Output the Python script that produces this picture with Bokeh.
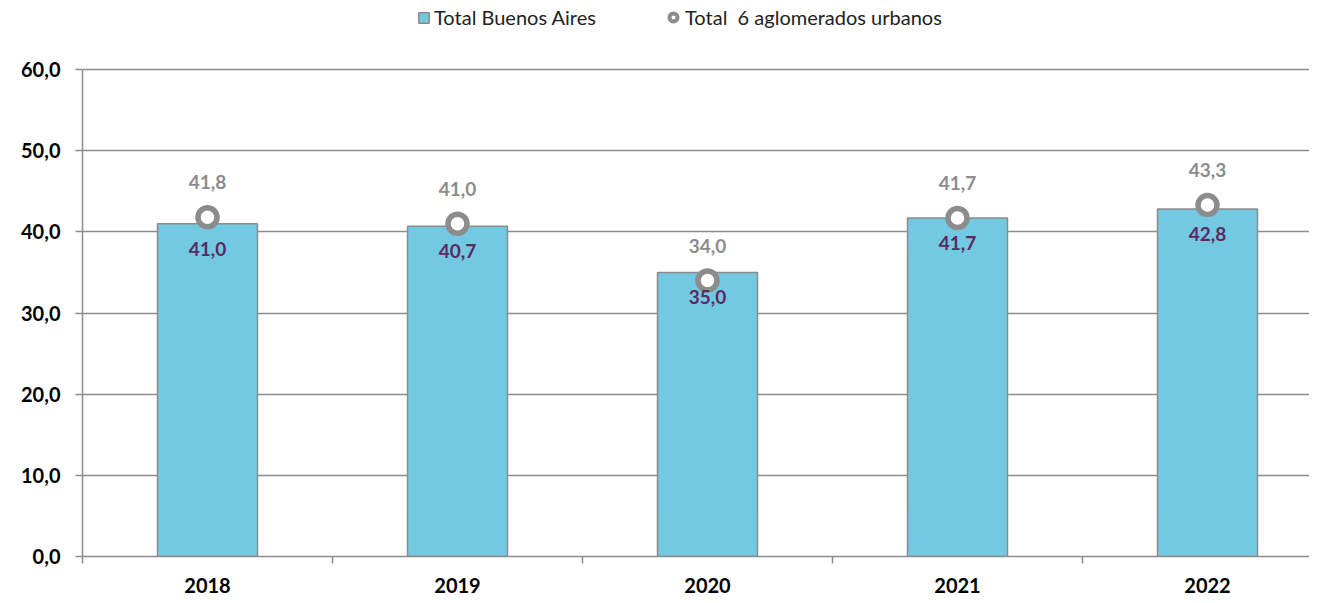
from bokeh.plotting import figure
from bokeh.models import (ColumnDataSource, Range1d, FixedTicker, Legend, LegendItem)
from bokeh.core.properties import value
from bokeh.embed import file_html
from bokeh.resources import INLINE

years = ["2018", "2019", "2020", "2021", "2022"]
buenos_aires = [41.0, 40.7, 35.0, 41.7, 42.8]
aglomerados = [41.8, 41.0, 34.0, 41.7, 43.3]
y_ticks = [0, 10, 20, 30, 40, 50, 60]

FONT = "Lato"
BAR = "#73C8E2"
GRAY = "#8C8C8C"
PURPLE = "#5B2A5E"

def fmt(v):
    return f"{v:.1f}".replace(".", ",")

W, H = 1309, 595
LEFT, BOTTOM = 82, 39
FRAME_H = H - BOTTOM          # frame spans the whole top; legend sits inside it
Y_TOP_PX = 69                 # pixel row of the 60,0 gridline
y_max = 60 * FRAME_H / (FRAME_H - Y_TOP_PX)
CAT_PX = 250

xs = [i + 0.5 for i in range(len(years))]
src = ColumnDataSource(dict(
    x=xs, ba=buenos_aires, ag=aglomerados,
    ba_lbl=[fmt(v) for v in buenos_aires],
    ag_lbl=[fmt(v) for v in aglomerados],
))

p = figure(width=W, height=H, output_backend="svg", toolbar_location=None,
           x_range=Range1d(0, (W - LEFT) / CAT_PX), y_range=Range1d(0, y_max),
           min_border_left=LEFT, min_border_right=0, min_border_bottom=BOTTOM,
           min_border_top=0)
p.outline_line_color = None
p.background_fill_color = "white"

bars = p.vbar(x="x", top="ba", width=0.4, source=src, fill_color=BAR,
              line_color=GRAY, line_width=1.5)
pts = p.scatter(x="x", y="ag", source=src, size=19, marker="circle",
                fill_color="white", line_color=GRAY, line_width=5.5)

p.text(x="x", y="ag", text="ag_lbl", source=src, y_offset=-35,
       text_align="center", text_baseline="middle", text_color=GRAY,
       text_font=value(FONT), text_font_size="19px", text_font_style="bold")
p.text(x="x", y="ba", text="ba_lbl", source=src, y_offset=25,
       text_align="center", text_baseline="middle", text_color=PURPLE,
       text_font=value(FONT), text_font_size="19px", text_font_style="bold")

# legend glyph renderer for the circle (point placed outside the visible range)
leg_ci = p.scatter(x=[-10], y=[-10], marker="circle", size=8, fill_color="white",
                   line_color=GRAY, line_width=4)

common = dict(orientation="horizontal", label_text_font=FONT, label_text_font_size="20px",
              label_text_color="#222222", border_line_color=None,
              padding=0, margin=0, background_fill_alpha=0)
legend1 = Legend(items=[LegendItem(label="Total Buenos Aires", renderers=[bars])],
                 location=(335, FRAME_H - 29), glyph_width=13, glyph_height=13,
                 label_standoff=4, **common)
legend2 = Legend(items=[LegendItem(label="Total  6 aglomerados urbanos", renderers=[leg_ci])],
                 location=(581, FRAME_H - 29), glyph_width=20, glyph_height=20,
                 label_standoff=2, **common)
p.add_layout(legend1, "center")
p.add_layout(legend2, "center")

# grid
p.xgrid.grid_line_color = None
p.ygrid.grid_line_color = GRAY
p.ygrid.grid_line_width = 1.5
p.ygrid.ticker = FixedTicker(ticks=y_ticks)

# y axis
p.yaxis.bounds = (0, 60)
p.yaxis.ticker = FixedTicker(ticks=y_ticks)
p.yaxis.major_label_overrides = {t: fmt(t) for t in y_ticks}
p.yaxis.axis_line_color = GRAY
p.yaxis.axis_line_width = 1.5
p.yaxis.major_tick_line_color = GRAY
p.yaxis.major_tick_line_width = 1.5
p.yaxis.major_tick_out = 7
p.yaxis.major_tick_in = 0
p.yaxis.minor_tick_line_color = None
p.yaxis.major_label_text_font = FONT
p.yaxis.major_label_text_font_size = "20px"
p.yaxis.major_label_text_font_style = "bold"
p.yaxis.major_label_text_color = "black"
p.yaxis.major_label_standoff = 15

# x axis
p.xaxis.ticker = FixedTicker(ticks=xs, minor_ticks=[0, 1, 2, 3, 4, 5])
p.xaxis.major_label_overrides = {x: y for x, y in zip(xs, years)}
p.xaxis.axis_line_color = GRAY
p.xaxis.axis_line_width = 1.5
p.xaxis.major_tick_line_color = None
p.xaxis.major_tick_out = 0
p.xaxis.minor_tick_line_color = GRAY
p.xaxis.minor_tick_line_width = 1.5
p.xaxis.minor_tick_out = 7
p.xaxis.minor_tick_in = 0
p.xaxis.major_label_text_font = FONT
p.xaxis.major_label_text_font_size = "20px"
p.xaxis.major_label_text_font_style = "bold"
p.xaxis.major_label_text_color = "black"
p.xaxis.major_label_standoff = 14

open("out.html", "w").write(file_html(p, INLINE))
